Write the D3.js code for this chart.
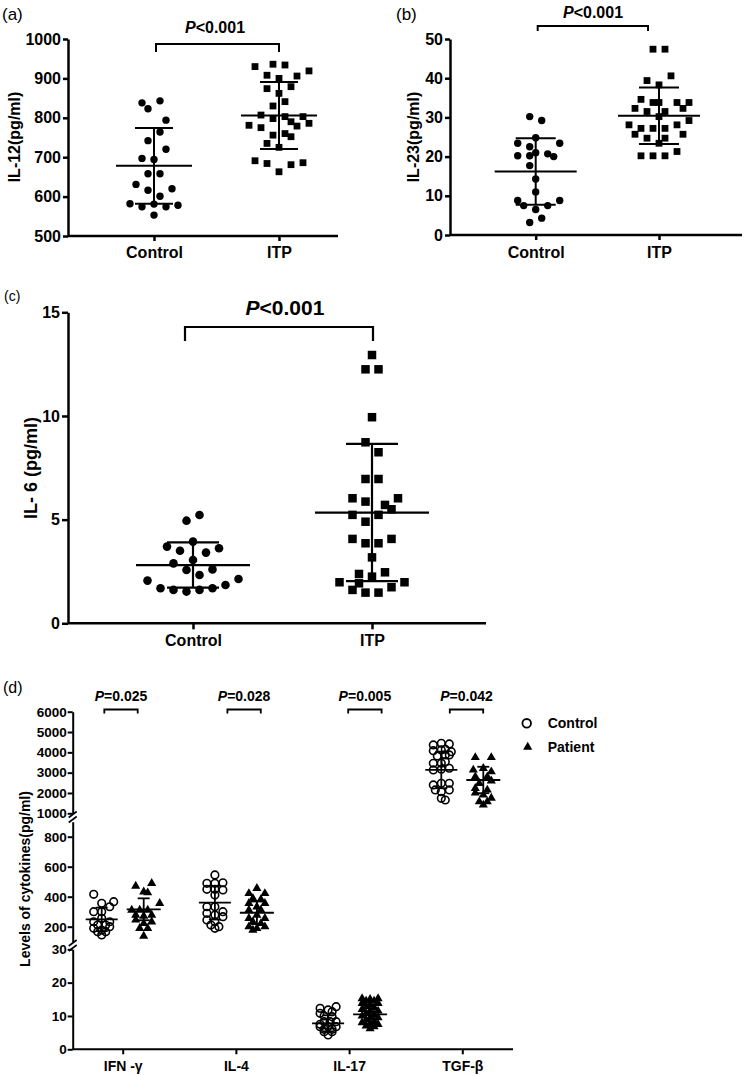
<!DOCTYPE html>
<html><head><meta charset="utf-8">
<script src="https://cdn.jsdelivr.net/npm/d3@7"></script>
<style>body{margin:0;background:#fff} text{font-family:"Liberation Sans",Arial,sans-serif;fill:#000}</style>
</head><body><script>
// ---------------- DATA ----------------
// Panel (a) IL-12
const aCategories = ["Control", "ITP"];
const aControl = [838,843,823,794,764,742,720,697,694,658,658,631,616,601,620,582,574,581,574,578,553];
const aControlSlot = [-2,1,-1,2,1,-1,2,-2,0,-1,1,-3,-1,1,3,-4,-2,0,2,4,0];
const aITP = [930,936,934,919,908,906,900,874,879,862,841,830,807,798,803,803,781,775,790,779,786,756,760,752,735,725,691,684,681,686,663];
const aITPSlot = [-4,-1,1,5,-2,3,0,-2,2,0,1,-1,-3,-1,1,4,-5,-3,2,3,5,-1,1,2,-2,0,-4,-2,2,4,0];
const aMean = [678, 806];
const aSD = [96, 85];
const aTicks = [500,600,700,800,900,1000];
const aP = "P<0.001";

// Panel (b) IL-23
const bCategories = ["Control", "ITP"];
const bControl = [30.2,29.2,23.4,22.5,24.8,23.4,20.2,20.2,21.0,20.7,20.0,17.7,14.3,11.0,8.8,7.5,6.5,7.5,8.8,4.3,3.2];
const bControlSlot = [-1,1,-3,-1,0,4,-3,-1,0,2,3,-1,0,0,-3,-2,0,2,4,1,-1];
const bITP = [47.4,47.4,40.6,39.4,38.3,34.6,33.8,33.8,33.8,33.8,32.3,31.5,31.5,32.3,30.2,28.1,27.2,27.2,27.2,28.1,29.2,25.7,24.7,24.7,25.7,23.4,21.3,20.2,20.2,20.2];
const bITPSlot = [-1,1,2,-2,0,-3,-1,0,3,5,-4,-2,1,4,0,-5,-3,-1,1,3,5,-4,-2,1,4,0,3,-3,-1,1];
const bMean = [16.2, 30.4];
const bSD = [8.5, 7.2];
const bTicks = [0,10,20,30,40,50];
const bP = "P<0.001";

// Panel (c) IL-6
const cCategories = ["Control", "ITP"];
const cControl = [4.95,5.22,3.70,3.94,3.50,3.41,3.62,2.89,3.05,2.57,2.33,2.60,2.06,2.14,1.69,1.61,1.53,1.61,1.69,1.85];
const cControlSlot = [-1,1,-4,0,-2,2,4,-3,0,-1,1,3,-7,7,-5,-3,-1,1,3,5];
const cITP = [12.94,12.25,12.25,9.94,8.73,8.25,6.96,6.96,6.03,5.87,6.03,5.71,5.50,5.23,5.23,4.90,4.07,3.86,3.86,4.07,3.18,2.38,2.46,2.25,1.98,1.93,1.98,1.74,1.61,1.48,1.48];
const cITPSlot = [0,-1,1,0,-1,1,-1,1,-3,-1,4,2,3,-3,1,-1,-3,-1,1,3,0,-2,2,0,-5,-2,5,3,-3,-1,1];
const cMean = [2.81, 5.34];
const cSD = [1.09, 3.31];
const cTicks = [0,5,10,15];
const cP = "P<0.001";

// Panel (d) cytokines
const dCategories = ["IFN -γ", "IL-4", "IL-17", "TGF-β"];
const dSeries = ["Control", "Patient"];
const dControl = [
  [416,356,367,300,300,333,233,256,233,211,211,189,178,200,167,167,145],
  [545,489,489,493,449,449,445,411,333,333,300,289,278,267,245,233,211,200,189],
  [12.8,12.3,11.8,11.3,10.8,10.0,9.8,8.3,8.3,8.3,7.5,6.8,6.8,6.8,6.0,6.0,5.3,5.3,4.3],
  [4448,4414,4365,4153,4118,4084,4034,3872,3872,3823,3542,3463,3463,3217,3167,3133,2478,2478,2394,2148,2148,2064,1739,1655]
];
const dControlSlot = [
  [-2,0,3,-2,0,2,-2,0,2,-1,1,-2,0,2,-1,1,0],
  [0,-2,0,2,-2,0,2,0,-2,0,2,-2,0,2,-2,0,-1,1,0],
  [2,-2,0,1,-2,-1,1,-1,0.5,2,-2,-2,0,2,-1,1,-1,1,0],
  [0,2,-2,1,0,-2,2.5,1,2,-1,1,-2,0,2,0,-2,0,2,-2,2,-1.5,0,0,1]
];
const dPatient = [
  [471,489,433,427,356,311,311,311,278,271,278,245,222,233,189,189,138],
  [456,422,422,389,382,356,356,333,311,311,278,256,256,233,222,200,189,200,178],
  [15.2,15.0,15.2,14.5,14.5,13.8,13.5,13.8,12.8,12.5,12.0,11.5,11.5,10.8,10.5,10.0,9.5,9.5,8.8,8.5,8.0,7.5,7.5,7.0,6.8,6.2],
  [3750,3750,3133,3217,3050,2803,2803,2600,2478,2232,2148,2000,1901,1750,1571,1571,1409]
];
const dPatientSlot = [
  [-2,2,0,1,4,-3,-1,1,-2,0,2,-2,0,2,-1,1,0],
  [0,-2,2,-1,1,-2,2,0,-2,1,0,-2,2,-1,1,-2,0,2,-1],
  [-2,0,2,-1,1,-2,0,2,-1,1,-2,0,2,-1,1,-2,0,2,-1,1,-2,0,2,-1,1,0],
  [-2,2,-2.5,0,2,-2,1,2,-1,-2,1,-2,0,2,-1,1,0]
];
const dMeanControl = [249, 360, 7.8, 3133];
const dSDControl = [78, 112, 2.4, 900];
const dMeanPatient = [316, 293, 10.5, 2640];
const dSDPatient = [73, 75, 2.8, 650];
const dP = ["P=0.025", "P=0.028", "P=0.005", "P=0.042"];
const dTicksUpper = [1000,2000,3000,4000,5000,6000];
const dTicksMiddle = [200,400,600,800];
const dTicksLower = [0,10,20,30];

// ---------------- DRAWING ----------------
const svg = d3.select("body").append("svg").attr("width", 751).attr("height", 1076);

function styleAxis(g, fs, sw) {
  g.selectAll("path.domain").attr("stroke", "#000").attr("stroke-width", sw);
  g.selectAll(".tick line").attr("stroke", "#000").attr("stroke-width", sw);
  g.selectAll(".tick text").style("font-size", fs + "px").style("font-weight", "bold");
}
function pText(x, y, label, fs) {
  const t = svg.append("text").attr("x", x).attr("y", y).attr("text-anchor", "middle")
    .style("font-size", fs + "px").style("font-weight", "bold");
  t.append("tspan").style("font-style", "italic").text(label[0]);
  t.append("tspan").text(label.slice(1));
}
function bracket(x1, x2, yTop, yBot, sw) {
  svg.append("path").attr("d", `M${x1},${yBot}V${yTop}H${x2}V${yBot}`)
    .attr("fill", "none").attr("stroke", "#000").attr("stroke-width", sw);
}
function meanSD(cx, y, mean, sd, mw, cw, sw) {
  const g = svg.append("g").attr("stroke", "#000").attr("stroke-width", sw);
  const ym = y(mean), yu = y(mean + sd), yl = y(mean - sd);
  g.append("line").attr("x1", cx - mw).attr("x2", cx + mw).attr("y1", ym).attr("y2", ym);
  g.append("line").attr("x1", cx).attr("x2", cx).attr("y1", yu).attr("y2", yl);
  g.append("line").attr("x1", cx - cw).attr("x2", cx + cw).attr("y1", yu).attr("y2", yu);
  g.append("line").attr("x1", cx - cw).attr("x2", cx + cw).attr("y1", yl).attr("y2", yl);
}
function label(x, y, txt, fs, weight, rotate) {
  const t = svg.append("text").attr("text-anchor", "middle").style("font-size", fs + "px")
    .style("font-weight", weight || "bold").text(txt);
  if (rotate) t.attr("transform", `translate(${x},${y}) rotate(-90)`).attr("dy", "0.35em");
  else t.attr("x", x).attr("y", y);
  return t;
}

function scatterPanel(c) {
  const y = d3.scaleLinear().domain(c.yDomain).range(c.yRange);
  const x = d3.scalePoint().domain(c.cats).range(c.xRange);
  const y0 = c.yRange[0];
  // y axis
  const ga = svg.append("g").attr("transform", `translate(${c.axisX},0)`)
    .call(d3.axisLeft(y).tickValues(c.ticks).tickSize(c.tick).tickSizeOuter(0).tickPadding(2).tickFormat(d3.format("d")));
  styleAxis(ga, c.fs, c.sw);
  // x axis
  const gx = svg.append("g").attr("transform", `translate(0,${y0})`)
    .call(d3.axisBottom(x).tickSize(c.tick).tickSizeOuter(0));
  gx.select("path.domain").remove();
  styleAxis(gx, c.fs, c.sw);
  gx.selectAll(".tick text").attr("y", c.catBase - y0).attr("dy", 0);
  svg.append("line").attr("x1", c.axisX).attr("x2", c.axisEnd).attr("y1", y0).attr("y2", y0)
    .attr("stroke", "#000").attr("stroke-width", c.sw);
  // points
  const ctrl = c.control.map((v, i) => ({v, s: c.controlSlot[i]}));
  svg.append("g").selectAll("circle").data(ctrl).join("circle")
    .attr("cx", d => x(c.cats[0]) + d.s * c.slotW).attr("cy", d => y(d.v)).attr("r", c.r).attr("fill", "#000");
  const itp = c.itp.map((v, i) => ({v, s: c.itpSlot[i]}));
  svg.append("g").selectAll("rect").data(itp).join("rect")
    .attr("x", d => x(c.cats[1]) + d.s * c.slotW - c.sq / 2).attr("y", d => y(d.v) - c.sq / 2)
    .attr("width", c.sq).attr("height", c.sq).attr("fill", "#000");
  // mean & SD
  c.cats.forEach((k, i) => meanSD(x(k), y, c.mean[i], c.sd[i], c.mw, c.cw, c.lw));
  // annotation
  pText(c.pX, c.pY, c.p, c.pfs);
  bracket(x(c.cats[0]) + c.bIn[0], x(c.cats[1]) - c.bIn[1], c.bTop, c.bBot, c.lw);
  label(c.ylX, c.ylY, c.ylabel, c.ylfs, "bold", true);
  label(c.tagX, c.tagY, c.tag, c.tagfs, "normal").attr("text-anchor", "start");
}

scatterPanel({cats: aCategories, control: aControl, controlSlot: aControlSlot, itp: aITP, itpSlot: aITPSlot,
  mean: aMean, sd: aSD, ticks: aTicks, yDomain: [500, 1000], yRange: [236, 39], xRange: [154, 279],
  axisX: 68, axisEnd: 338, tick: 5, fs: 16, sw: 2.5, lw: 2, slotW: 6, r: 3.7, sq: 6.8, mw: 38, cw: 19,
  catBase: 258, p: aP, pX: 215, pY: 33, pfs: 16, bIn: [2, 0], bTop: 44, bBot: 52,
  ylabel: "IL-12(pg/ml)", ylX: 14, ylY: 137, ylfs: 16, tag: "(a)", tagX: 2, tagY: 20, tagfs: 17});

scatterPanel({cats: bCategories, control: bControl, controlSlot: bControlSlot, itp: bITP, itpSlot: bITPSlot,
  mean: bMean, sd: bSD, ticks: bTicks, yDomain: [0, 50], yRange: [235, 39], xRange: [535.7, 659],
  axisX: 450, axisEnd: 742, tick: 5, fs: 16, sw: 2.5, lw: 2, slotW: 6, r: 3.7, sq: 6.8, mw: 41, cw: 20,
  catBase: 258, p: bP, pX: 593, pY: 18, pfs: 16, bIn: [2, 11], bTop: 26, bBot: 31,
  ylabel: "IL-23(pg/ml)", ylX: 413, ylY: 137, ylfs: 16, tag: "(b)", tagX: 396, tagY: 20, tagfs: 17});

scatterPanel({cats: cCategories, control: cControl, controlSlot: cControlSlot, itp: cITP, itpSlot: cITPSlot,
  mean: cMean, sd: cSD, ticks: cTicks, yDomain: [0, 15], yRange: [623.3, 312.3], xRange: [193, 372],
  axisX: 68, axisEnd: 486, tick: 6, fs: 16, sw: 2.5, lw: 2.2, slotW: 6.5, r: 4.3, sq: 8.5, mw: 57, cw: 26,
  catBase: 646, p: cP, pX: 285, pY: 315, pfs: 21, bIn: [-8, -1], bTop: 327, bBot: 341,
  ylabel: "IL- 6 (pg/ml)", ylX: 31, ylY: 468, ylfs: 18, tag: "(c)", tagX: 4, tagY: 301, tagfs: 14});

// ---- Panel (d) ----
(function () {
  const axisX = 72.7, y0 = 1049.3, sw = 2, fs = 13.5;
  const yUp = d3.scaleLinear().domain([1000, 6000]).range([813.3, 711.7]);
  const yMid = d3.scaleLinear().domain([100, 900]).range([941.7, 821.7]);
  const yLow = d3.scaleLinear().domain([0, 30]).range([1049.3, 949.3]);
  const yFor = [yMid, yMid, yLow, yUp];
  const x = d3.scalePoint().domain(dCategories).range([122.7, 462.3]);
  const off = 21, slotW = 4;
  [[yUp, dTicksUpper], [yMid, dTicksMiddle], [yLow, dTicksLower]].forEach(([s, t]) => {
    const g = svg.append("g").attr("transform", `translate(${axisX},0)`)
      .call(d3.axisLeft(s).tickValues(t).tickSize(5).tickSizeOuter(0).tickPadding(1).tickFormat(d3.format("d")));
    styleAxis(g, fs, sw);
  });
  // axis break marks
  [817, 945.5].forEach(yb => {
    [-2.5, 2.5].forEach(dy => {
      svg.append("line").attr("x1", axisX - 4).attr("x2", axisX + 4)
        .attr("y1", yb + dy + 3).attr("y2", yb + dy - 3).attr("stroke", "#000").attr("stroke-width", 1.6);
    });
  });
  // x axis
  const gx = svg.append("g").attr("transform", `translate(0,${y0})`)
    .call(d3.axisBottom(x).tickSize(5).tickSizeOuter(0));
  gx.select("path.domain").remove();
  styleAxis(gx, 14, sw);
  gx.selectAll(".tick text").attr("y", 1071 - y0).attr("dy", 0);
  svg.append("line").attr("x1", axisX).attr("x2", 513).attr("y1", y0).attr("y2", y0)
    .attr("stroke", "#000").attr("stroke-width", sw);

  const tri = d3.symbol().type(d3.symbolTriangle).size(36);
  dCategories.forEach((cat, i) => {
    const y = yFor[i], cx = x(cat) - off, px = x(cat) + off;
    svg.append("g").selectAll("circle").data(dControl[i].map((v, j) => ({v, s: dControlSlot[i][j]}))).join("circle")
      .attr("cx", d => cx + d.s * slotW).attr("cy", d => y(d.v)).attr("r", 3.8)
      .attr("fill", "none").attr("stroke", "#000").attr("stroke-width", 1.6);
    svg.append("g").selectAll("path").data(dPatient[i].map((v, j) => ({v, s: dPatientSlot[i][j]}))).join("path")
      .attr("d", tri).attr("transform", d => `translate(${px + d.s * slotW},${y(d.v)})`).attr("fill", "#000");
    meanSD(cx, y, dMeanControl[i], dSDControl[i], 16, 6, 1.8);
    meanSD(px, y, dMeanPatient[i], dSDPatient[i], 17, 6, 1.8);
  });
  // p-values
  const pShift = [-1.7, 8.2, 15.8, 4.2];
  dCategories.forEach((cat, i) => {
    const c = x(cat) + pShift[i];
    pText(c, 701, dP[i], 14);
    bracket(c - 16.7, c + 16.7, 709.5, 713.5, 1.8);
  });
  // legend
  svg.append("circle").attr("cx", 526.7).attr("cy", 723.3).attr("r", 4.3)
    .attr("fill", "none").attr("stroke", "#000").attr("stroke-width", 1.8);
  svg.append("path").attr("d", tri).attr("transform", "translate(527.7,747)").attr("fill", "#000");
  svg.append("text").attr("x", 547.7).attr("y", 728).style("font-size", "14px").style("font-weight", "bold").text(dSeries[0]);
  svg.append("text").attr("x", 547.7).attr("y", 752).style("font-size", "14px").style("font-weight", "bold").text(dSeries[1]);
  label(25, 879, "Levels of cytokines(pg/ml)", 14, "bold", true);
  label(3, 693, "(d)", 16, "normal").attr("text-anchor", "start");
})();
</script></body></html>
